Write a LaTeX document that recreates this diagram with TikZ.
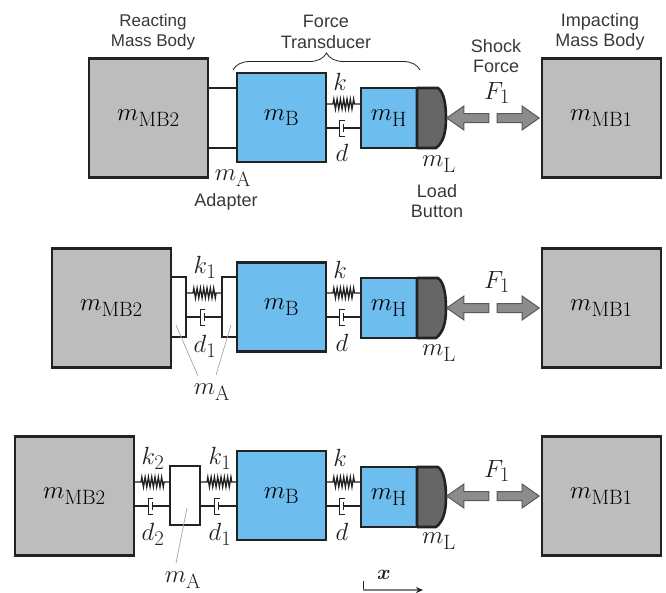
\documentclass[tikz,border=0pt]{standalone}
\usepackage[no-math]{fontspec}
\setmainfont{Liberation Sans}
\usepackage{bm}
\usepackage{xcolor}
\usetikzlibrary{positioning,calc,shapes.arrows,arrows.meta,decorations.pathmorphing,decorations.pathreplacing}
\DeclareMathSizes{25}{25}{20.74}{15}

\definecolor{massgray}{HTML}{BDBDBD}
\definecolor{transblue}{HTML}{6DBDEE}
\definecolor{capgray}{HTML}{666666}
\definecolor{arrowgray}{HTML}{8C8C8C}
\definecolor{inkdark}{HTML}{222222}

\tikzset{
	massbody/.style={draw=inkdark,line width=2.6pt,fill=massgray,minimum width=119,minimum height=119,inner sep=0,outer sep=0,font=\fontsize{25}{28}\selectfont},
	basebody/.style={draw=inkdark,line width=2.6pt,fill=transblue,minimum width=89,minimum height=89,inner sep=0,outer sep=0,font=\fontsize{25}{28}\selectfont},
	headbody/.style={draw=inkdark,line width=2.6pt,fill=transblue,minimum width=56,minimum height=60,inner sep=0,outer sep=0,font=\fontsize{25}{28}\selectfont},
	adapterbody/.style={draw=inkdark,line width=2.6pt,fill=white,inner sep=0,outer sep=0},
	capbody/.style={draw=inkdark,line width=2.6pt,fill=capgray,line join=round},
	link/.style={draw=inkdark,line width=1.5pt},
	spring/.style={draw=inkdark,line width=1.3pt,decorate,decoration={zigzag,segment length=3.3,amplitude=5,pre length=7,post length=5}},
	leader/.style={draw=gray!70,line width=0.7pt},
	forcearrow/.style={shape=single arrow,draw=inkdark!75,line width=1pt,fill=arrowgray,minimum height=42,minimum width=23,single arrow head extend=7.5,single arrow tip angle=70,single arrow head indent=0,inner sep=4,outer sep=0},
	caption/.style={align=center,font=\fontsize{18}{20.5}\selectfont,text=inkdark!90,inner sep=0},
	symbol/.style={font=\fontsize{25}{28}\selectfont,text=inkdark,inner sep=0},
}

% dash-pot between two coordinates
\newcommand{\dashpot}[2]{
	\coordinate (dpmid) at ($(#1)!0.47!(#2)$);
	\draw[link] (#1) -- ($(dpmid)+(-2.5,0)$);
	\draw[draw=inkdark,line width=1pt] ($(dpmid)+(2.5,-8)$) -- ($(dpmid)+(-2.5,-8)$) -- ($(dpmid)+(-2.5,8)$) -- ($(dpmid)+(2.5,8)$);
	\draw[draw=inkdark,line width=1pt] ($(dpmid)+(1.5,-4)$) -- ($(dpmid)+(1.5,4)$);
	\draw[link] ($(dpmid)+(1.5,0)$) -- (#2);
}

\begin{document}
\begin{tikzpicture}[x=1pt,y=-1pt]
	\useasboundingbox (0,0) rectangle (666,592);

	% top row
	\node[massbody] (mbtwoA) at (148.5,118) {$m_{\mathrm{MB2}}$};
	\node[basebody] (baseA) at (281.5,117.5) {$m_{\mathrm{B}}$};
	\node[headbody] (headA) at (389,118) {$m_{\mathrm{H}}$};
	\node[massbody] (mboneA) at (601.5,118) {$m_{\mathrm{MB1}}$};
	\draw[capbody,shift={(headA.east)}] (0,-30) -- (21,-30) .. controls (27,-26) and (29,-13) .. (29,0) .. controls (29,13) and (27,24) .. (19,30) -- (0,30) -- cycle;
	\draw[draw=inkdark,line width=2.6pt] (mbtwoA.east |- 0,88) -- (baseA.west |- 0,88);
	\draw[draw=inkdark,line width=2.6pt] (mbtwoA.east |- 0,148) -- (baseA.west |- 0,148);
	\draw[spring] (baseA.east |- 0,104) -- (headA.west |- 0,104);
	\dashpot{baseA.east |- 0,128}{headA.west |- 0,128}
	\node[forcearrow,shape border rotate=180] (leftA) at (471,118) {};
	\node[forcearrow] (rightA) at (515,118) {};
	\node[caption,font=\fontsize{17}{20.5}\selectfont] (reacting) at (153,32) {Reacting\\Mass Body};
	\node[caption] (transducer) at (326,32) {Force\\Transducer};
	\node[caption] (impacting) at (600,32) {Impacting\\Mass Body};
	\node[caption] (shock) at (496,56) {Shock\\Force};
	\node[caption] (button) at (437,201) {Load\\Button};
	\node[caption] (adapter) at (226,202) {Adapter};
	\node[symbol] (kA) at (340,82) {$k$};
	\node[symbol] (dA) at (342,153) {$d$};
	\node[symbol] (mlA) at (439,164) {$m_{\mathrm{L}}$};
	\node[symbol] (maA) at (233,178) {$m_{\mathrm{A}}$};
	\node[symbol] (fA) at (497,93) {$F_1$};
	\coordinate (braceL) at (233,70);
	\coordinate (braceR) at (420,70);
	\draw[draw=inkdark,line width=0.8pt,decorate,decoration={brace,amplitude=17,raise=0}] (braceL) -- (braceR);

	% middle row
	\node[massbody] (mbtwoB) at (111.5,308) {$m_{\mathrm{MB2}}$};
	\node[basebody] (baseB) at (281.5,307) {$m_{\mathrm{B}}$};
	\node[headbody] (headB) at (389,308) {$m_{\mathrm{H}}$};
	\node[massbody] (mboneB) at (601.5,308) {$m_{\mathrm{MB1}}$};
	\draw[capbody,shift={(headB.east)}] (0,-30) -- (21,-30) .. controls (27,-26) and (29,-13) .. (29,0) .. controls (29,13) and (27,24) .. (19,30) -- (0,30) -- cycle;
	\node[adapterbody,minimum width=15,minimum height=60] (adaptL) at (178.5,307) {};
	\node[adapterbody,minimum width=15,minimum height=60] (adaptR) at (229.5,307) {};
	\draw[spring] (adaptL.east |- 0,293) -- (adaptR.west |- 0,293);
	\dashpot{adaptL.east |- 0,317}{adaptR.west |- 0,317}
	\draw[spring] (baseB.east |- 0,293) -- (headB.west |- 0,293);
	\dashpot{baseB.east |- 0,317}{headB.west |- 0,317}
	\node[forcearrow,shape border rotate=180] (leftB) at (471,308) {};
	\node[forcearrow] (rightB) at (515,308) {};
	\node[symbol] (kB) at (340,270) {$k$};
	\node[symbol] (dB) at (342,343) {$d$};
	\node[symbol] (koneB) at (205,267) {$k_1$};
	\node[symbol] (doneB) at (205,346) {$d_1$};
	\node[symbol] (mlB) at (439,353) {$m_{\mathrm{L}}$};
	\node[symbol] (maB) at (212,392) {$m_{\mathrm{A}}$};
	\node[symbol] (fB) at (497,282) {$F_1$};
	\coordinate (leadLa) at (176,325);
	\coordinate (leadLb) at (198,376);
	\coordinate (leadRa) at (231,325);
	\coordinate (leadRb) at (216,375);
	\draw[leader] (leadLa) -- (leadLb);
	\draw[leader] (leadRa) -- (leadRb);

	% bottom row
	\node[massbody] (mbtwoC) at (74.5,496) {$m_{\mathrm{MB2}}$};
	\node[basebody] (baseC) at (281.5,495.5) {$m_{\mathrm{B}}$};
	\node[headbody] (headC) at (389,497) {$m_{\mathrm{H}}$};
	\node[massbody] (mboneC) at (601.5,496) {$m_{\mathrm{MB1}}$};
	\draw[capbody,shift={(headC.east)}] (0,-30) -- (21,-30) .. controls (27,-26) and (29,-13) .. (29,0) .. controls (29,13) and (27,24) .. (19,30) -- (0,30) -- cycle;
	\node[adapterbody,minimum width=30,minimum height=59] (adaptC) at (185,495.5) {};
	\draw[spring] (mbtwoC.east |- 0,482) -- (adaptC.west |- 0,482);
	\dashpot{mbtwoC.east |- 0,506}{adaptC.west |- 0,506}
	\draw[spring] (adaptC.east |- 0,482) -- (baseC.west |- 0,482);
	\dashpot{adaptC.east |- 0,506}{baseC.west |- 0,506}
	\draw[spring] (baseC.east |- 0,482) -- (headC.west |- 0,482);
	\dashpot{baseC.east |- 0,506}{headC.west |- 0,506}
	\node[forcearrow,shape border rotate=180] (leftC) at (471,496) {};
	\node[forcearrow] (rightC) at (515,496) {};
	\node[symbol] (kC) at (340,458) {$k$};
	\node[symbol] (dC) at (342,532) {$d$};
	\node[symbol] (ktwoC) at (153,458) {$k_2$};
	\node[symbol] (dtwoC) at (153,534) {$d_2$};
	\node[symbol] (koneC) at (220,458) {$k_1$};
	\node[symbol] (doneC) at (220,534) {$d_1$};
	\node[symbol] (mlC) at (439,541) {$m_{\mathrm{L}}$};
	\node[symbol] (maC) at (183,580) {$m_{\mathrm{A}}$};
	\node[symbol] (fC) at (497,471) {$F_1$};
	\coordinate (leadCa) at (187,508);
	\coordinate (leadCb) at (176,563);
	\draw[leader] (leadCa) -- (leadCb);

	% axis
	\coordinate (axisO) at (363,590);
	\coordinate (axisT) at (363,581);
	\coordinate (axisE) at (423,590);
	\draw[draw=inkdark,line width=0.8pt] (axisT) -- (axisO);
	\draw[draw=gray,line width=1.2pt,-{Stealth[length=7pt,width=6pt,inkdark]}] (axisO) -- (axisE);
	\node[symbol,font=\fontsize{20}{22}\selectfont] (xlabel) at (384,575) {$\bm{x}$};
\end{tikzpicture}
\end{document}
